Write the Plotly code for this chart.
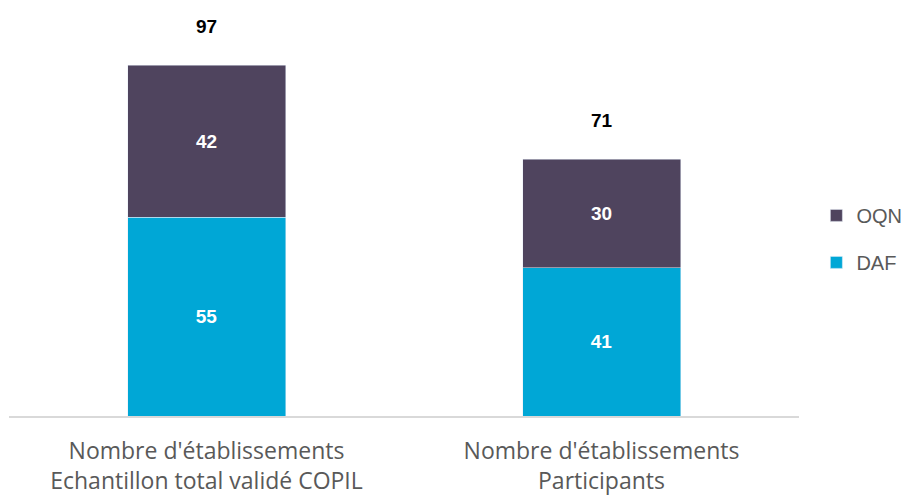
import plotly.graph_objects as go

categories = ["Nombre d'établissements<br>Echantillon total validé COPIL",
              "Nombre d'établissements<br>Participants"]
daf = [55, 41]
oqn = [42, 30]
totals = [97, 71]
series_names = ["DAF", "OQN"]
colors = ["#00A7D6", "#4F445E"]
ranks = [2, 1]

fig = go.Figure()
for name, vals, col, rk in zip(series_names, [daf, oqn], colors, ranks):
    fig.add_trace(go.Bar(
        x=categories, y=vals, name=name, marker_color=col, legendgroup=name,
        legendrank=rk,
        text=[str(v) for v in vals], textposition="inside", insidetextanchor="middle",
        textfont=dict(family="Liberation Sans, Arial", size=19, color="white", weight="bold"),
        width=0.4,
    ))

for c, t in zip(categories, totals):
    fig.add_annotation(x=c, y=t, text=f"<b>{t}</b>", showarrow=False, yanchor="bottom",
                       yshift=26, font=dict(family="Liberation Sans, Arial", size=19, color="black"))

fig.update_layout(
    barmode="stack",
    width=905, height=495,
    margin=dict(l=9, r=106, t=18, b=79, autoexpand=False),
    plot_bgcolor="white", paper_bgcolor="white",
    showlegend=True,
    legend=dict(x=1.022, y=0.445, xanchor="left", yanchor="middle",
                traceorder="grouped", tracegroupgap=18,
                font=dict(family="Liberation Sans, Arial", size=20, color="#595959")),
    xaxis=dict(showline=True, linecolor="#d9d9d9", linewidth=2, ticks="",
               ticklabelstandoff=13,
               tickfont=dict(family="Open Sans", size=23, color="#595959")),
    yaxis=dict(range=[0, 110], visible=False),
)
fig.write_html("out.html")
